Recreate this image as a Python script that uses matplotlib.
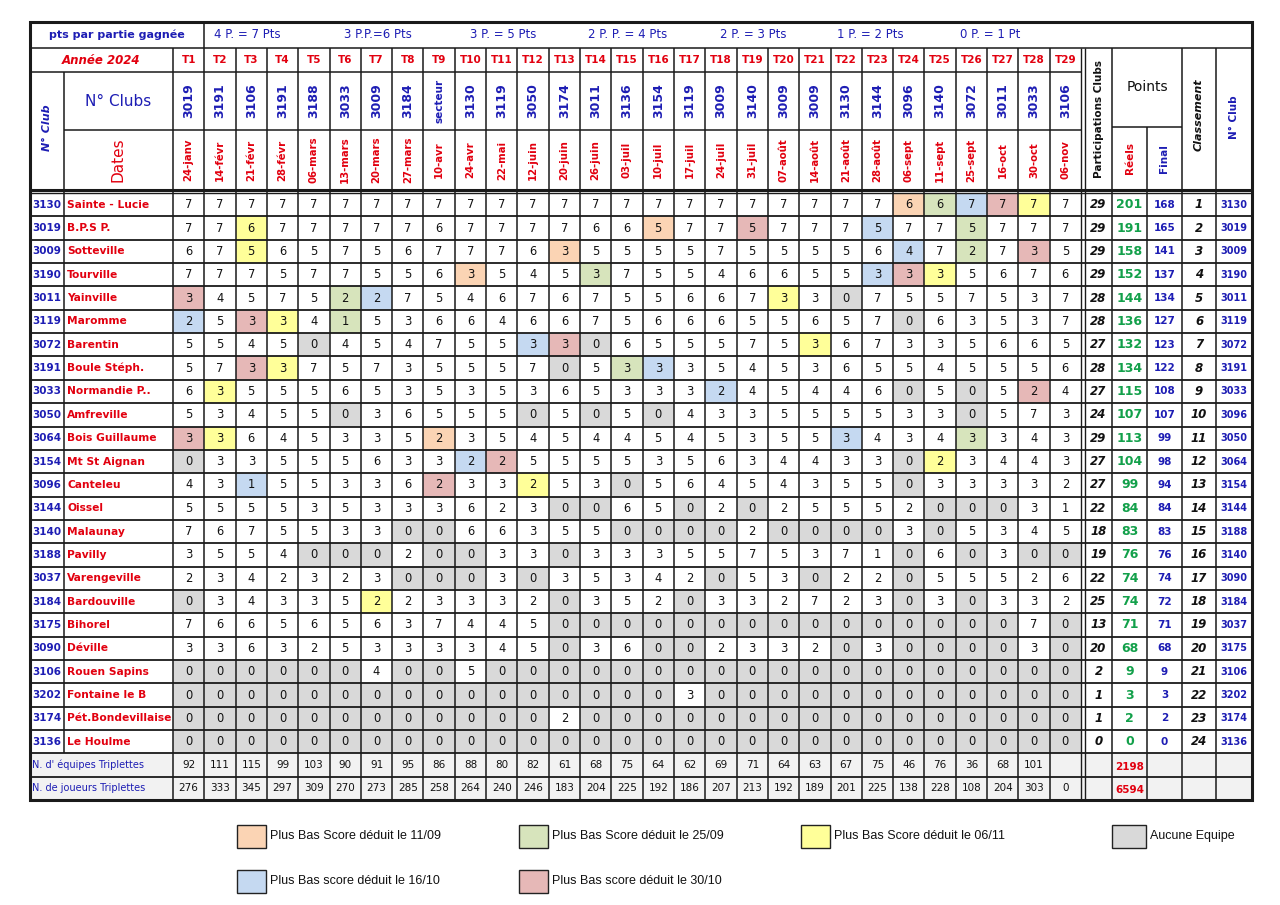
import matplotlib
matplotlib.use("Agg")
import matplotlib.pyplot as plt
from matplotlib.patches import Rectangle

# ---------------- DATA ----------------
club_nums = [3130, 3019, 3009, 3190, 3011, 3119, 3072, 3191, 3033, 3050, 3064, 3154,
             3096, 3144, 3140, 3188, 3037, 3184, 3175, 3090, 3106, 3202, 3174, 3136]
club_names = ["Sainte - Lucie", "B.P.S P.", "Sotteville", "Tourville", "Yainville", "Maromme",
              "Barentin", "Boule Stéph.", "Normandie P..", "Amfreville", "Bois Guillaume",
              "Mt St Aignan", "Canteleu", "Oissel", "Malaunay", "Pavilly", "Varengeville",
              "Bardouville", "Bihorel", "Déville", "Rouen Sapins", "Fontaine le B",
              "Pét.Bondevillaise", "Le Houlme"]
tournaments = ["T%d" % i for i in range(1, 30)]
host_clubs = ["3019", "3191", "3106", "3191", "3188", "3033", "3009", "3184", "secteur", "3130",
              "3119", "3050", "3174", "3011", "3136", "3154", "3119", "3009", "3140", "3009",
              "3009", "3130", "3144", "3096", "3140", "3072", "3011", "3033", "3106"]
dates = ["24-janv", "14-févr", "21-févr", "28-févr", "06-mars", "13-mars", "20-mars", "27-mars",
         "10-avr", "24-avr", "22-mai", "12-juin", "20-juin", "26-juin", "03-juil", "10-juil",
         "17-juil", "24-juil", "31-juil", "07-août", "14-août", "21-août", "28-août", "06-sept",
         "11-sept", "25-sept", "16-oct", "30-oct", "06-nov"]

scores = [
    [7,7,7,7,7,7,7,7,7,7,7,7,7,7,7, 7,7,7,7,7,7,7,7,6,6,7,7,7,7],
    [7,7,6,7,7,7,7,7,6,7,7,7,7,6,6, 5,7,7,5,7,7,7,5,7,7,5,7,7,7],
    [6,7,5,6,5,7,5,6,7,7,7,6,3,5,5, 5,5,7,5,5,5,5,6,4,7,2,7,3,5],
    [7,7,7,5,7,7,5,5,6,3,5,4,5,3,7, 5,5,4,6,6,5,5,3,3,3,5,6,7,6],
    [3,4,5,7,5,2,2,7,5,4,6,7,6,7,5, 5,6,6,7,3,3,0,7,5,5,7,5,3,7],
    [2,5,3,3,4,1,5,3,6,6,4,6,6,7,5, 6,6,6,5,5,6,5,7,0,6,3,5,3,7],
    [5,5,4,5,0,4,5,4,7,5,5,3,3,0,6, 5,5,5,7,5,3,6,7,3,3,5,6,6,5],
    [5,7,3,3,7,5,7,3,5,5,5,7,0,5,3, 3,3,5,4,5,3,6,5,5,4,5,5,5,6],
    [6,3,5,5,5,6,5,3,5,3,5,3,6,5,3, 3,3,2,4,5,4,4,6,0,5,0,5,2,4],
    [5,3,4,5,5,0,3,6,5,5,5,0,5,0,5, 0,4,3,3,5,5,5,5,3,3,0,5,7,3],
    [3,3,6,4,5,3,3,5,2,3,5,4,5,4,4, 5,4,5,3,5,5,3,4,3,4,3,3,4,3],
    [0,3,3,5,5,5,6,3,3,2,2,5,5,5,5, 3,5,6,3,4,4,3,3,0,2,3,4,4,3],
    [4,3,1,5,5,3,3,6,2,3,3,2,5,3,0, 5,6,4,5,4,3,5,5,0,3,3,3,3,2],
    [5,5,5,5,3,5,3,3,3,6,2,3,0,0,6, 5,0,2,0,2,5,5,5,2,0,0,0,3,1],
    [7,6,7,5,5,3,3,0,0,6,6,3,5,5,0, 0,0,0,2,0,0,0,0,3,0,5,3,4,5],
    [3,5,5,4,0,0,0,2,0,0,3,3,0,3,3, 3,5,5,7,5,3,7,1,0,6,0,3,0,0],
    [2,3,4,2,3,2,3,0,0,0,3,0,3,5,3, 4,2,0,5,3,0,2,2,0,5,5,5,2,6],
    [0,3,4,3,3,5,2,2,3,3,3,2,0,3,5, 2,0,3,3,2,7,2,3,0,3,0,3,3,2],
    [7,6,6,5,6,5,6,3,7,4,4,5,0,0,0, 0,0,0,0,0,0,0,0,0,0,0,0,7,0],
    [3,3,6,3,2,5,3,3,3,3,4,5,0,3,6, 0,0,2,3,3,2,0,3,0,0,0,0,3,0],
    [0,0,0,0,0,0,4,0,0,5,0,0,0,0,0, 0,0,0,0,0,0,0,0,0,0,0,0,0,0],
    [0,0,0,0,0,0,0,0,0,0,0,0,0,0,0, 0,3,0,0,0,0,0,0,0,0,0,0,0,0],
    [0,0,0,0,0,0,0,0,0,0,0,0,2,0,0, 0,0,0,0,0,0,0,0,0,0,0,0,0,0],
    [0,0,0,0,0,0,0,0,0,0,0,0,0,0,0, 0,0,0,0,0,0,0,0,0,0,0,0,0,0],
]

# (row 1-based, tournament 1-based, deduction code)
highlight_cells = [
    (1,24,'o'),(1,25,'g'),(1,26,'b'),(1,27,'r'),(1,28,'y'),
    (2,3,'y'),(2,16,'o'),(2,19,'r'),(2,23,'b'),(2,26,'g'),
    (3,3,'y'),(3,13,'o'),(3,24,'b'),(3,26,'g'),(3,28,'r'),
    (4,10,'o'),(4,14,'g'),(4,23,'b'),(4,24,'r'),(4,25,'y'),
    (5,1,'r'),(5,6,'g'),(5,7,'b'),(5,20,'y'),
    (6,1,'b'),(6,3,'r'),(6,4,'y'),(6,6,'g'),
    (7,12,'b'),(7,13,'r'),(7,21,'y'),
    (8,3,'r'),(8,4,'y'),(8,15,'g'),(8,16,'b'),
    (9,2,'y'),(9,18,'b'),(9,28,'r'),
    (11,1,'r'),(11,2,'y'),(11,9,'o'),(11,22,'b'),(11,26,'g'),
    (12,10,'b'),(12,11,'r'),(12,25,'y'),
    (13,3,'b'),(13,9,'r'),(13,12,'y'),
    (18,7,'y'),
]

participations = [29,29,29,29,28,28,27,28,27,24,29,27,27,22,18,19,22,25,13,20,2,1,1,0]
points_reels = [201,191,158,152,144,136,132,134,115,107,113,104,99,84,83,76,74,74,71,68,9,3,2,0]
points_final = [168,165,141,137,134,127,123,122,108,107,99,98,94,84,83,76,74,72,71,68,9,3,2,0]
classement = list(range(1, 25))
ranked_clubs = [3130,3019,3009,3190,3011,3119,3072,3191,3033,3096,3050,3064,
                3154,3144,3188,3140,3090,3184,3037,3175,3106,3202,3174,3136]
nb_equipes = [92,111,115,99,103,90,91,95,86,88,80,82,61,68,75,64,62,69,71,64,63,67,75,46,76,36,68,101,None]
nb_joueurs = [276,333,345,297,309,270,273,285,258,264,240,246,183,204,225,192,186,207,213,192,189,201,225,138,228,108,204,303,0]
total_equipes = 2198
total_joueurs = 6594

points_scale = ["4 P. = 7 Pts", "3 P.P.=6 Pts", "3 P. = 5 Pts", "2 P. P. = 4 Pts",
                "2 P. = 3 Pts", "1 P. = 2 Pts", "0 P. = 1 Pt"]

legend_labels = {
    'o': "Plus Bas Score déduit le 11/09",
    'g': "Plus Bas Score déduit le 25/09",
    'y': "Plus Bas Score déduit le 06/11",
    'b': "Plus Bas score déduit le 16/10",
    'r': "Plus Bas score déduit le 30/10",
    'z': "Aucune Equipe",
}

# ---------------- STYLE ----------------
FILL = {'o': '#fbd4b4', 'g': '#d7e4bc', 'y': '#ffff99', 'b': '#c5d9f1', 'r': '#e6b8b7', 'z': '#d9d9d9'}
RED = '#e2000f'
BLUE = '#1d1db4'
GREEN = '#12a04a'
LINE = '#1a1a1a'
plt.rcParams['font.family'] = ['DejaVu Sans']

# layout (pixels)
XL, XNAME, XT0, XT1 = 30, 64, 173, 1081
RIGHT_COLS = [1085, 1112, 1147, 1182, 1216, 1252]
XR = 1252
YT, Y1, Y2, Y3, Y4 = 22, 48, 72, 130, 190
YD0 = 193
RH = 23.35
NT = len(tournaments)
TW = (XT1 - XT0) / NT
NR = len(club_nums)
YD1 = YD0 + NR * RH
YB = YD1 + 2 * RH

fig = plt.figure(figsize=(12.8, 9.05), dpi=100)
ax = fig.add_axes([0, 0, 1, 1])
ax.set_xlim(0, 1280)
ax.set_ylim(905, 0)
ax.axis('off')

def tx(j):
    return XT0 + (j + 0.5) * TW

def ry(i):
    return YD0 + (i + 0.5) * RH

def hline(y, x0, x1, lw=1.1):
    ax.plot([x0, x1], [y, y], color=LINE, lw=lw, solid_capstyle='butt', zorder=3)

def vline(x, y0, y1, lw=1.1):
    ax.plot([x, x], [y0, y1], color=LINE, lw=lw, solid_capstyle='butt', zorder=3)

# cell fills
hl = {(r - 1, t - 1): c for r, t, c in highlight_cells}
for i in range(NR):
    for j in range(NT):
        v = scores[i][j]
        code = hl.get((i, j), 'z' if v == 0 else None)
        if code:
            ax.add_patch(Rectangle((XT0 + j * TW, YD0 + i * RH), TW, RH,
                                   facecolor=FILL[code], edgecolor='none', zorder=1))
        ax.text(tx(j), ry(i), str(v), ha='center', va='center', fontsize=8.3, color='#111111', zorder=4)

# totals rows background
ax.add_patch(Rectangle((XL, YD1), XR - XL, 2 * RH, facecolor='#f2f2f2', edgecolor='none', zorder=1))

# rows: club numbers & names & right block
for i in range(NR):
    y = ry(i)
    ax.text((XL + XNAME) / 2, y, str(club_nums[i]), ha='center', va='center',
            fontsize=7.5, color=BLUE, fontweight='bold', zorder=4)
    ax.text(XNAME + 3, y, club_names[i], ha='left', va='center',
            fontsize=7.7, color=RED, fontweight='bold', zorder=4)
    cx = [(RIGHT_COLS[k] + RIGHT_COLS[k + 1]) / 2 for k in range(5)]
    ax.text(cx[0], y, str(participations[i]), ha='center', va='center', fontsize=8.5,
            fontweight='bold', style='italic', color='#111111', zorder=4)
    ax.text(cx[1], y, str(points_reels[i]), ha='center', va='center', fontsize=9,
            fontweight='bold', color=GREEN, zorder=4)
    ax.text(cx[2], y, str(points_final[i]), ha='center', va='center', fontsize=7.5,
            fontweight='bold', color=BLUE, zorder=4)
    ax.text(cx[3], y, str(classement[i]), ha='center', va='center', fontsize=8.5,
            fontweight='bold', style='italic', color='#111111', zorder=4)
    ax.text(cx[4], y, str(ranked_clubs[i]), ha='center', va='center', fontsize=7,
            fontweight='bold', color=BLUE, zorder=4)

# totals rows
ye, yj = YD1 + RH / 2, YD1 + 1.5 * RH
ax.text(XL + 2, ye, "N. d' équipes Triplettes", ha='left', va='center', fontsize=7, color=BLUE, zorder=4)
ax.text(XL + 2, yj, "N. de joueurs Triplettes", ha='left', va='center', fontsize=7, color=BLUE, zorder=4)
for j in range(NT):
    if nb_equipes[j] is not None:
        ax.text(tx(j), ye, str(nb_equipes[j]), ha='center', va='center', fontsize=7.5, color='#111111', zorder=4)
    ax.text(tx(j), yj, str(nb_joueurs[j]), ha='center', va='center', fontsize=7.5, color='#111111', zorder=4)
creels = (RIGHT_COLS[1] + RIGHT_COLS[2]) / 2
ax.text(creels, ye + 2, str(total_equipes), ha='center', va='center', fontsize=7.5, fontweight='bold', color=RED, zorder=4)
ax.text(creels, yj + 2, str(total_joueurs), ha='center', va='center', fontsize=7.5, fontweight='bold', color=RED, zorder=4)

# header row 1
ax.text((XL + XT0 + TW) / 2, (YT + Y1) / 2, "pts par partie gagnée", ha='center', va='center',
        fontsize=8, color=BLUE, fontweight='bold', zorder=4)
scale_x = [247, 378, 503, 628, 753, 870, 990]
for sx, s in zip(scale_x, points_scale):
    ax.text(sx, (YT + Y1) / 2, s, ha='center', va='center', fontsize=8.5, color=BLUE, zorder=4)

# header row 2
ax.text((XL + XT0) / 2, (Y1 + Y2) / 2, "Année 2024", ha='center', va='center', fontsize=8.5,
        color=RED, fontweight='bold', style='italic', zorder=4)
for j in range(NT):
    ax.text(tx(j), (Y1 + Y2) / 2, tournaments[j], ha='center', va='center', fontsize=7.5,
            color=RED, fontweight='bold', zorder=4)
    ax.text(tx(j), (Y2 + Y3) / 2, host_clubs[j], ha='center', va='center', rotation=90,
            fontsize=9 if host_clubs[j] != 'secteur' else 7.5, color=BLUE, fontweight='bold', zorder=4)
    ax.text(tx(j), (Y3 + Y4) / 2, dates[j], ha='center', va='center', rotation=90,
            fontsize=7.3, color=RED, fontweight='bold', zorder=4)

ax.text((XL + XNAME) / 2, (Y2 + Y4) / 2 - 3, "N° Club", ha='center', va='center', rotation=90,
        fontsize=8, color=BLUE, fontweight='bold', style='italic', zorder=4)
ax.text((XNAME + XT0) / 2, (Y2 + Y3) / 2, "N° Clubs", ha='center', va='center',
        fontsize=11, color=BLUE, zorder=4)
ax.text((XNAME + XT0) / 2, (Y3 + Y4) / 2, "Dates", ha='center', va='center', rotation=90,
        fontsize=11, color=RED, zorder=4)

# right header
YP = 127
rc = RIGHT_COLS
ax.text((rc[0] + rc[1]) / 2, (Y1 + Y4) / 2, "Participations Clubs", ha='center', va='center',
        rotation=90, fontsize=7.5, fontweight='bold', color='#111111', zorder=4)
ax.text((rc[1] + rc[3]) / 2, 87, "Points", ha='center', va='center', fontsize=10, color='#111111', zorder=4)
ax.text((rc[1] + rc[2]) / 2, (YP + Y4) / 2, "Réels", ha='center', va='center', rotation=90,
        fontsize=7.5, fontweight='bold', color=RED, zorder=4)
ax.text((rc[2] + rc[3]) / 2, (YP + Y4) / 2, "Final", ha='center', va='center', rotation=90,
        fontsize=7.5, fontweight='bold', color=BLUE, zorder=4)
ax.text((rc[3] + rc[4]) / 2, 115, "Classement", ha='center', va='center', rotation=90,
        fontsize=8, fontweight='bold', style='italic', color='#111111', zorder=4)
ax.text((rc[4] + rc[5]) / 2, 117, "N° Club", ha='center', va='center', rotation=90,
        fontsize=7.5, fontweight='bold', color=BLUE, zorder=4)

# grid lines
hline(Y1, XL, XR)
hline(Y2, XL, XT1)
hline(Y3, XNAME, XT1)
hline(YP, rc[1], rc[3])
hline(Y4, XL, XR, lw=2.2)
hline(YD0, XL, XR, lw=1.0)
for i in range(1, NR + 2):
    hline(YD0 + i * RH, XL, XR, lw=1.3)
vline(XNAME, Y2, YD1)
vline(XT0, Y1, YB)
for j in range(1, NT):
    vline(XT0 + j * TW, YT if j == 1 else Y1, YB)
vline(XT1, Y1, YB, lw=1.0)
vline(rc[0], Y1, YB, lw=1.0)
vline(rc[1], Y1, YB)
vline(rc[2], YP, YB)
vline(rc[3], Y1, YB)
vline(rc[4], Y1, YB)
ax.add_patch(Rectangle((XL, YT), XR - XL, YB - YT, facecolor='none', edgecolor=LINE, lw=2.2, zorder=5))

# legend
leg_items = [('o', 237, 836), ('g', 519, 836), ('y', 801, 836), ('z', 1112, 836),
             ('b', 237, 881), ('r', 519, 881)]
for code, lx, ly in leg_items:
    w = 34 if code == 'z' else 29
    ax.add_patch(Rectangle((lx, ly - 11.5), w, 23, facecolor=FILL[code], edgecolor='#222222', lw=1.0, zorder=3))
    ax.text(lx + w + 4, ly, legend_labels[code], ha='left', va='center', fontsize=9,
            family='Liberation Sans', color='#111111', zorder=4)

fig.savefig("out.png", dpi=100)
